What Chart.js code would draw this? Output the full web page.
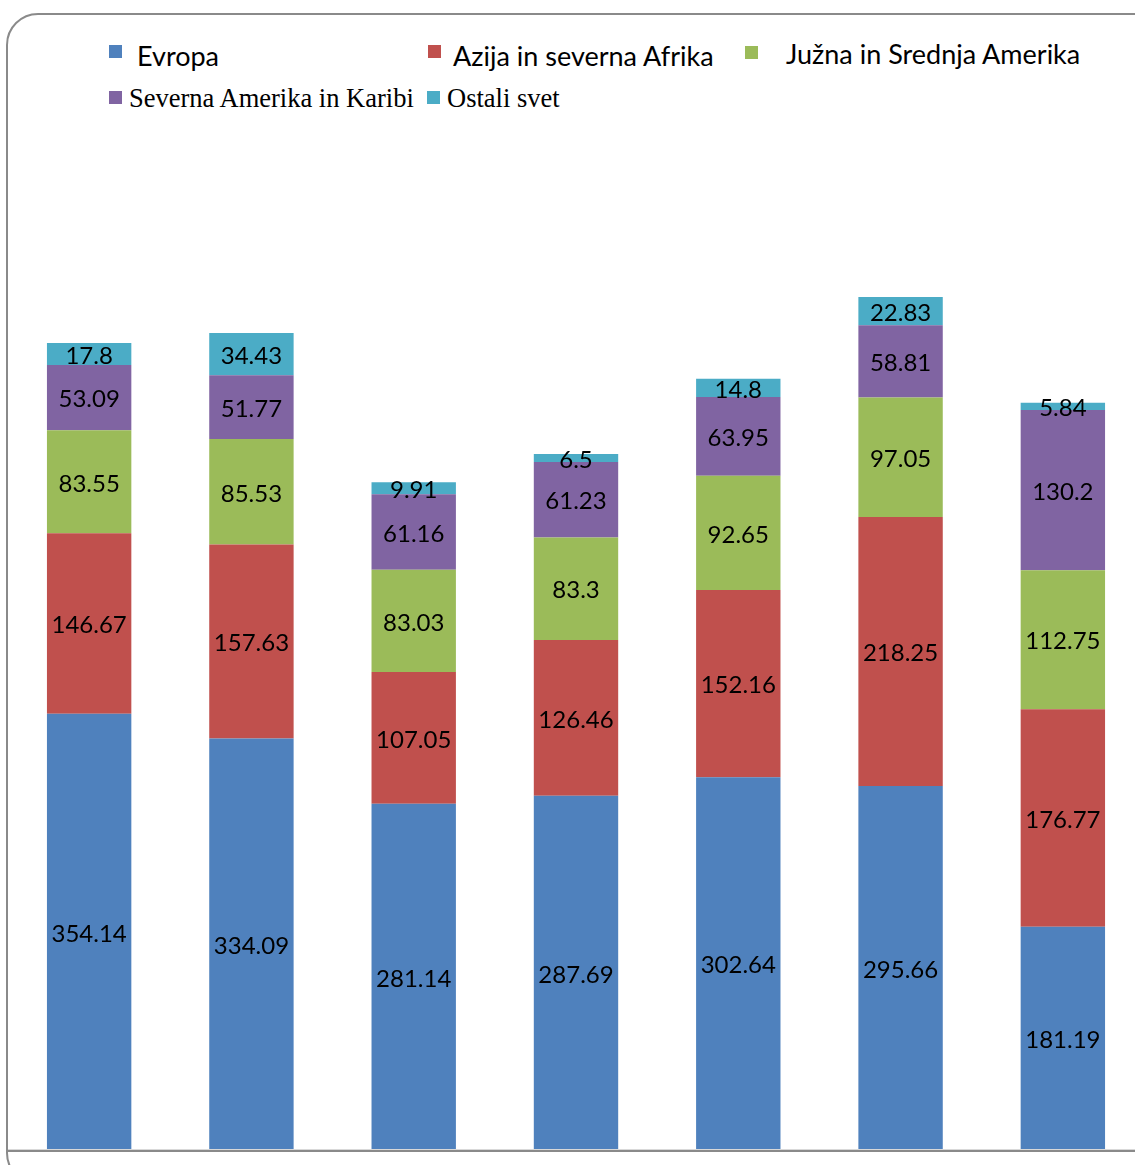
<!DOCTYPE html>
<html>
<head>
<meta charset="utf-8">
<script src="https://cdn.jsdelivr.net/npm/chart.js@4"></script>
<style>
  html, body { margin: 0; padding: 0; background: #fff; overflow: hidden; }
  #wrap { position: relative; width: 1135px; height: 1165px; overflow: hidden; }
  #frame {
    position: absolute; left: 6px; top: 13px; width: 1160px; height: 1172px;
    border: 2px solid #8a8a8a; border-radius: 32px; box-sizing: border-box;
  }
  #chart { position: absolute; left: 8px; top: 150px; }
  .lg { position: absolute; white-space: nowrap; color: #000; }
  .lg .sw { position: absolute; width: 13px; height: 13px; }
  .sans { font-family: Lato, "Open Sans", sans-serif; font-size: 27px; }
  .serif { font-family: "Liberation Serif", "DejaVu Serif", serif; font-size: 26.5px; }
</style>
</head>
<body>
<div id="wrap">
  <div id="frame"></div>
  <div id="legend"></div>
  <canvas id="chart" width="1136" height="1004"></canvas>
</div>
<script>
// Data
const categories = ['1', '2', '3', '4', '5', '6', '7'];
const seriesNames = ['Evropa', 'Azija in severna Afrika', 'Južna in Srednja Amerika', 'Severna Amerika in Karibi', 'Ostali svet'];
const seriesColors = ['#4F81BD', '#C0504D', '#9BBB59', '#8064A2', '#4BACC6'];
const evropa = [354.14, 334.09, 281.14, 287.69, 302.64, 295.66, 181.19];
const azija = [146.67, 157.63, 107.05, 126.46, 152.16, 218.25, 176.77];
const juzna = [83.55, 85.53, 83.03, 83.3, 92.65, 97.05, 112.75];
const severna = [53.09, 51.77, 61.16, 61.23, 63.95, 58.81, 130.2];
const ostali = [17.8, 34.43, 9.91, 6.5, 14.8, 22.83, 5.84];
const seriesValues = [evropa, azija, juzna, severna, ostali];

// Legend (HTML, two rows with different fonts like the original)
const legendSpots = [
    {sw: [109, 45], tx: [137, 39], cls: 'sans'},
    {sw: [428, 45], tx: [453, 39], cls: 'sans'},
    {sw: [745, 46], tx: [786, 37], cls: 'sans'},
    {sw: [109, 91], tx: [129, 83], cls: 'serif'},
    {sw: [427, 91], tx: [447, 83], cls: 'serif'}
];
const legendDiv = document.getElementById('legend');
seriesNames.forEach((name, i) => {
    const s = legendSpots[i];
    const sw = document.createElement('div');
    sw.className = 'lg';
    sw.style.left = s.sw[0] + 'px';
    sw.style.top = s.sw[1] + 'px';
    sw.innerHTML = `<div class="sw" style="background:${seriesColors[i]}"></div>`;
    legendDiv.appendChild(sw);
    const tx = document.createElement('div');
    tx.className = 'lg ' + s.cls;
    tx.style.left = s.tx[0] + 'px';
    tx.style.top = s.tx[1] + 'px';
    tx.textContent = name;
    legendDiv.appendChild(tx);
});

// Value labels centred in each segment
const segmentLabels = {
    id: 'segmentLabels',
    afterDatasetsDraw(chart) {
        const ctx = chart.ctx;
        ctx.save();
        ctx.font = '24px Lato, "Open Sans", sans-serif';
        ctx.fillStyle = '#000';
        ctx.textAlign = 'center';
        ctx.textBaseline = 'middle';
        chart.data.datasets.forEach((ds, di) => {
            chart.getDatasetMeta(di).data.forEach((bar, i) => {
                const p = bar.getCenterPoint();
                ctx.fillText(String(ds.data[i]), p.x, p.y + 2);
            });
        });
        ctx.restore();
    }
};

// Gray baseline under the bars
const baseLine = {
    id: 'baseLine',
    afterDatasetsDraw(chart) {
        const ctx = chart.ctx;
        const y = chart.chartArea.bottom + 1;
        ctx.save();
        ctx.strokeStyle = '#d9d9d9';
        ctx.lineWidth = 1;
        ctx.beginPath();
        ctx.moveTo(0, y - 1.5);
        ctx.lineTo(chart.width, y - 1.5);
        ctx.stroke();
        ctx.strokeStyle = '#8a8a8a';
        ctx.lineWidth = 2;
        ctx.beginPath();
        ctx.moveTo(0, y);
        ctx.lineTo(chart.width, y);
        ctx.stroke();
        ctx.restore();
    }
};

new Chart(document.getElementById('chart'), {
    type: 'bar',
    data: {
        labels: categories,
        datasets: seriesNames.map((name, i) => ({
            label: name,
            data: seriesValues[i],
            backgroundColor: seriesColors[i],
            borderWidth: 0,
            barPercentage: 1,
            categoryPercentage: 0.52
        }))
    },
    options: {
        responsive: false,
        animation: false,
        layout: { padding: { left: 0, right: 0, top: 0, bottom: 4 } },
        plugins: {
            legend: { display: false },
            tooltip: { enabled: false }
        },
        scales: {
            x: { stacked: true, display: false },
            y: { stacked: true, display: false, min: 0, max: 812 }
        }
    },
    plugins: [segmentLabels, baseLine]
});
</script>
</body>
</html>
